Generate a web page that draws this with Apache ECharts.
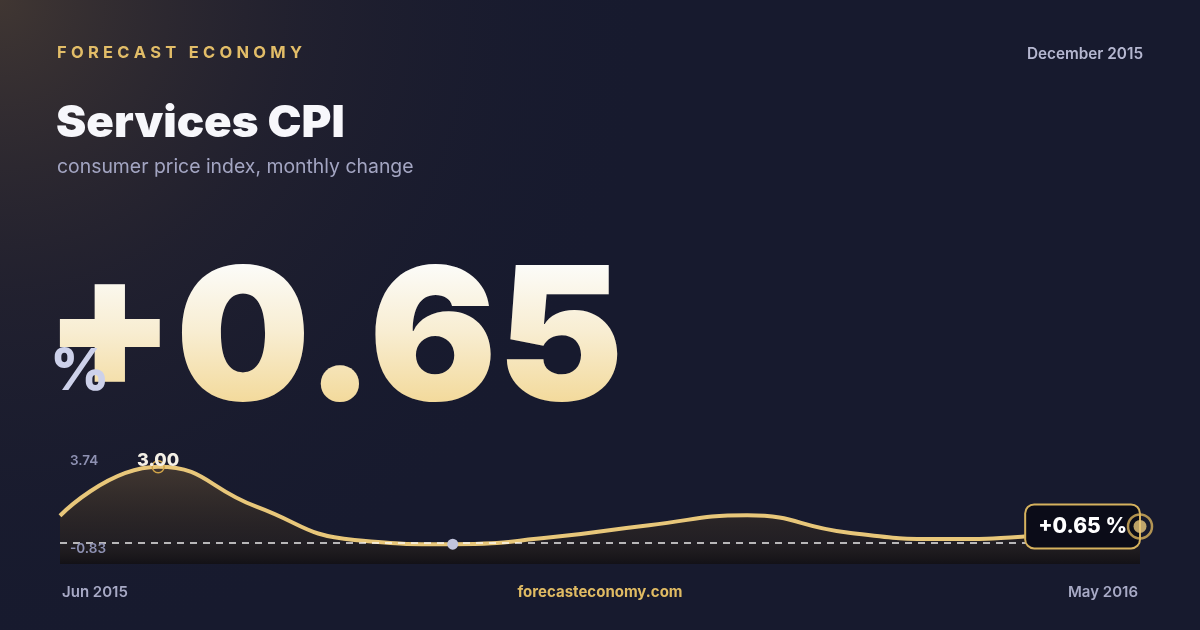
<!DOCTYPE html>
<html>
<head>
<meta charset="utf-8">
<script src="https://cdn.jsdelivr.net/npm/echarts@6/dist/echarts.min.js"></script>
<style>
html,body{margin:0;padding:0;background:#171a2e;}
#c{width:1200px;height:630px;}
</style>
</head>
<body>
<div id="c"></div>
<script>
// ---- data ----
const categories = ['Jun 2015','Jul 2015','Aug 2015','Sep 2015','Oct 2015','Nov 2015','Dec 2015','Jan 2016','Feb 2016','Mar 2016','Apr 2016','May 2016'];
const values = [1.07, 3.00, 1.43, 0.12, -0.05, 0.22, 0.70, 1.09, 0.42, 0.15, 0.30, 0.65];
const yRange = [-0.83, 3.74];
const yRangeLabels = ['3.74', '-0.83'];
const headline = '+0.65';
const lastLabel = '+0.65 %';
const brand = 'FORECAST ECONOMY';
const dateText = 'December 2015';
const titleText = 'Services CPI';
const subtitleText = 'consumer price index, monthly change';
const siteText = 'forecasteconomy.com';

const GOLD = '#e8c77a';
const FONT = 'Inter, "Noto Sans", sans-serif';

// vertical gradient fill for the headline text (zrender only accepts string fills for text)
(function () {
  const proto = CanvasRenderingContext2D.prototype;
  const orig = proto.fillText;
  proto.fillText = function (t, x, y, mw) {
    if (t === headline) {
      const m = this.measureText(t);
      const top = y - m.actualBoundingBoxAscent;
      const bot = y + m.actualBoundingBoxDescent;
      const g = this.createLinearGradient(0, top, 0, bot);
      g.addColorStop(0, '#fcfcf9');
      g.addColorStop(0.5, '#f8edd1');
      g.addColorStop(1, '#f3da9c');
      const prev = this.fillStyle;
      this.fillStyle = g;
      const r = mw === undefined ? orig.call(this, t, x, y) : orig.call(this, t, x, y, mw);
      this.fillStyle = prev;
      return r;
    }
    return mw === undefined ? orig.call(this, t, x, y) : orig.call(this, t, x, y, mw);
  };
})();

function spaced(str, x, y, font, targetWidth, color) {
  const ctx = document.createElement('canvas').getContext('2d');
  ctx.font = font;
  const chars = str.split('');
  const widths = chars.map(c => ctx.measureText(c).width);
  const natural = widths.reduce((a, b) => a + b, 0);
  const sp = (targetWidth - natural) / (chars.length - 1);
  const out = [];
  let cx = x;
  chars.forEach((c, i) => {
    if (c !== ' ') {
      out.push({type: 'text', x: cx, y: y, silent: true,
        style: {text: c, font: font, fill: color, verticalAlign: 'middle', align: 'left'}});
    }
    cx += widths[i] + sp;
  });
  return out;
}

const chart = echarts.init(document.getElementById('c'), null, {renderer: 'canvas'});
const last = values.length - 1;

const graphics = [
  {type: 'rect', z: -10, silent: true, shape: {x: 0, y: 0, width: 1200, height: 630},
   style: {fill: new echarts.graphic.RadialGradient(0, 0, 1.05, [
     {offset: 0, color: 'rgba(78,64,52,0.75)'},
     {offset: 0.45, color: 'rgba(52,44,48,0.35)'},
     {offset: 1, color: 'rgba(23,26,46,0)'}])}},
  ...spaced(brand, 57, 53, '700 16.5px ' + FONT, 245, '#e2bd68'),
  {type: 'text', x: 1143, y: 54, silent: true,
   style: {text: dateText, font: '600 15.3px ' + FONT, fill: '#b5b7d0', align: 'right', verticalAlign: 'middle'}},
  {type: 'text', x: 56, y: 124, scaleX: 1.035, silent: true,
   style: {text: titleText, font: '900 44px ' + FONT, fill: '#f7f7fb', verticalAlign: 'middle'}},
  {type: 'text', x: 57, y: 167, silent: true,
   style: {text: subtitleText, font: '400 19.4px ' + FONT, fill: '#a3a5c2', verticalAlign: 'middle'}},
  {type: 'text', x: 44, y: 344, scaleX: 1.026, z: 5, silent: true,
   style: {text: headline, font: '900 185px ' + FONT, fill: '#f8ecc9', verticalAlign: 'middle',
     shadowBlur: 26, shadowColor: 'rgba(0,0,0,0.55)', shadowOffsetY: 10}},
  {type: 'text', x: 50, y: 373, silent: true, z: 20,
   style: {text: '%', font: '800 58px ' + FONT, fill: '#cdd1ea', verticalAlign: 'middle'}},
  {type: 'text', x: 70, y: 461, silent: true, z: 6,
   style: {text: yRangeLabels[0], font: '600 13.5px ' + FONT, fill: '#8e91b2', verticalAlign: 'middle'}},
  {type: 'text', x: 70, y: 549, silent: true, z: 6,
   style: {text: yRangeLabels[1], font: '600 13.5px ' + FONT, fill: '#8e91b2', verticalAlign: 'middle'}},
  {type: 'text', x: 62, y: 592, silent: true,
   style: {text: categories[0], font: '600 15px ' + FONT, fill: '#a8aac6', verticalAlign: 'middle'}},
  {type: 'text', x: 1138, y: 592, silent: true,
   style: {text: categories[last], font: '600 15px ' + FONT, fill: '#a8aac6', verticalAlign: 'middle', align: 'right'}},
  {type: 'text', x: 600, y: 592, silent: true,
   style: {text: siteText, font: '700 15px ' + FONT, fill: '#e0bb63', verticalAlign: 'middle', align: 'center'}}
];

chart.setOption({
  backgroundColor: '#171a2e',
  animation: false,
  graphic: graphics,
  grid: {left: 60, right: 60, top: 448, bottom: 66},
  xAxis: {type: 'category', data: categories, boundaryGap: false, show: false},
  yAxis: {type: 'value', min: yRange[0], max: yRange[1], show: false, splitLine: {show: false}},
  series: [{
    type: 'line',
    data: values,
    smooth: 0.5,
    symbol: 'none',
    lineStyle: {color: GOLD, width: 4},
    areaStyle: {origin: 'start', opacity: 1, color: new echarts.graphic.LinearGradient(0, 0, 0, 1, [
      {offset: 0, color: 'rgba(75,62,50,0.8)'},
      {offset: 0.77, color: 'rgba(45,36,26,0.5)'},
      {offset: 1, color: 'rgba(18,16,20,0.9)'}])},
    markLine: {
      silent: true, symbol: 'none', label: {show: false},
      lineStyle: {color: 'rgba(255,255,255,0.9)', type: [7, 6], width: 1.5},
      data: [{yAxis: 0}]
    },
    markPoint: {
      silent: true,
      data: [
        {type: 'max', symbol: 'circle', symbolSize: 12,
         itemStyle: {color: 'rgba(0,0,0,0)', borderColor: '#d1a448', borderWidth: 1.5},
         label: {show: true, position: 'inside', offset: [0, -6], formatter: p => p.value.toFixed(2),
           color: '#f4f0e6', fontFamily: FONT, fontWeight: 800, fontSize: 18}},
        {type: 'min', symbol: 'circle', symbolSize: 11, itemStyle: {color: '#c2c5dd'}, label: {show: false}},
        {coord: [categories[last], values[last]], symbol: 'circle', symbolSize: 24,
         itemStyle: {color: 'rgba(0,0,0,0)'},
         label: {show: true, position: 'left', distance: -11, formatter: lastLabel,
           color: '#ffffff', fontFamily: FONT, fontWeight: 800, fontSize: 21,
           backgroundColor: '#0b0c18', borderColor: '#d6b25e', borderWidth: 2, borderRadius: 8,
           padding: [11, 12, 10, 12]}}
      ]
    }
  }, {
    type: 'scatter', z: 10, silent: true,
    data: [[categories[last], values[last]]],
    symbol: 'circle', symbolSize: 24,
    itemStyle: {color: 'rgba(0,0,0,0)', borderColor: '#d9b35c', borderWidth: 2.5}
  }, {
    type: 'scatter', z: 11, silent: true,
    data: [[categories[last], values[last]]],
    symbol: 'circle', symbolSize: 13,
    itemStyle: {color: GOLD}
  }]
});
</script>
</body>
</html>
